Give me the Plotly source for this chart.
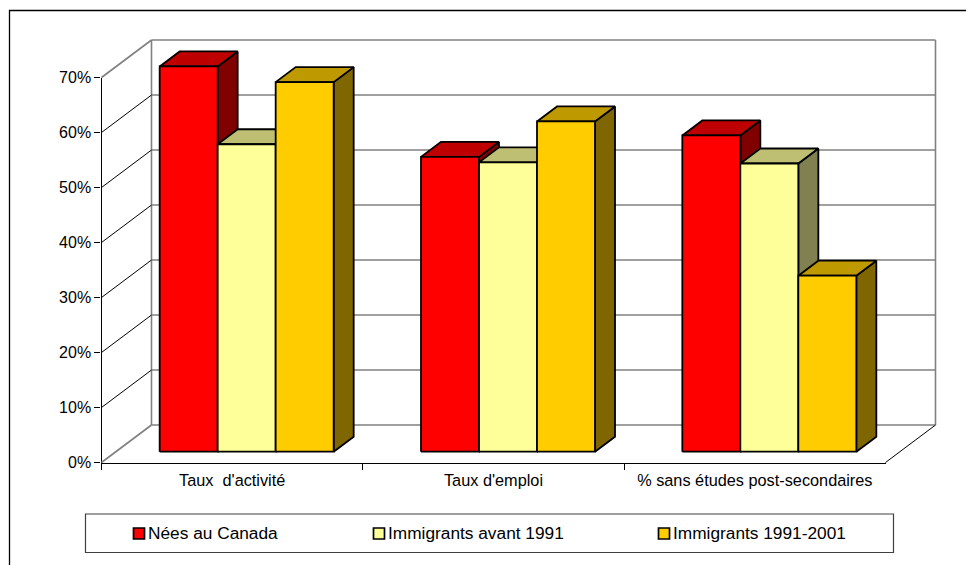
import plotly.graph_objects as go

# ---- data ----
categories = ["Taux\u00a0 d'activité", "Taux d'emploi", "% sans études post-secondaires"]
series_names = ["Nées au Canada", "Immigrants avant 1991", "Immigrants 1991-2001"]
nees_au_canada = [70.05, 53.6, 57.5]
immigrants_avant_1991 = [55.9, 52.6, 52.4]
immigrants_1991_2001 = [67.2, 60.05, 32.0]
y_ticks = [0, 10, 20, 30, 40, 50, 60, 70]
y_tick_labels = ["0%", "10%", "20%", "30%", "40%", "50%", "60%", "70%"]

# ---- styles ----
front_colors = ["#FF0000", "#FFFF99", "#FFCC00"]
top_colors = ["#BF0000", "#BFBF73", "#BF9900"]
side_colors = ["#800000", "#808050", "#806600"]
GREY = "#808080"
FONT = "Liberation Sans, Arial, sans-serif"
W, H = 966, 565

# pixel geometry of the oblique projection
X0, X1 = 101.5, 885.5      # front plane x axis
Y0, Y70 = 462.5, 77.5      # front plane 0% and 70%
ux = (X1 - X0) / 3          # px per category
uy = (Y0 - Y70) / 70        # px per percent
wall_dx, wall_dy = 50 / ux, 37.5 / uy
bar_w = 58 / ux
bar_dx, bar_dy = 20 / ux, 15 / uy
front_dx, front_dy = 14.5 / ux, 10.8 / uy


def px(x):
    return x / W


def py(y):
    return 1 - y / H


values = [nees_au_canada, immigrants_avant_1991, immigrants_1991_2001]
fig = go.Figure()

# real axes carrying the tick labels
fig.add_trace(go.Scatter(x=categories, y=[0, 0, 0], mode="markers", marker=dict(opacity=0),
                         hoverinfo="skip", showlegend=False))


def seg(points, color, width, dash=None):
    xs, ys = [], []
    for a, b in points:
        xs += [a[0], b[0], None]
        ys += [a[1], b[1], None]
    fig.add_trace(go.Scatter(x=xs, y=ys, mode="lines", xaxis="x2", yaxis="y2",
                             line=dict(color=color, width=width), hoverinfo="skip",
                             showlegend=False))


L, R = -0.5, 2.5
# back wall grid + wall outline
back = [((L + wall_dx, t + wall_dy), (R + wall_dx, t + wall_dy)) for t in y_ticks]
back += [((L + wall_dx, wall_dy), (L + wall_dx, 70 + wall_dy)),
         ((R + wall_dx, wall_dy), (R + wall_dx, 70 + wall_dy))]
back += [((L, 0), (L + wall_dx, wall_dy)), ((L, 70), (L + wall_dx, 70 + wall_dy))]
seg(back, GREY, 1.6)
# thin black depth lines on the left wall and floor right edge
seg([((L, t), (L + wall_dx, t + wall_dy)) for t in y_ticks[1:-1]] +
    [((R, 0), (R + wall_dx, wall_dy))], "#000000", 1)


def faces(s):
    group_left = -bar_w * 1.5 + front_dx
    fx, tx, sx = [], [], []
    fy, ty, sy = [], [], []
    for c, v in enumerate(values[s]):
        x0 = c + group_left + s * bar_w
        x1 = x0 + bar_w
        b, t = front_dy, v + front_dy
        fx += [x0, x1, x1, x0, x0, None]
        fy += [b, b, t, t, b, None]
        tx += [x0, x1, x1 + bar_dx, x0 + bar_dx, x0, None]
        ty += [t, t, t + bar_dy, t + bar_dy, t, None]
        sx += [x1, x1 + bar_dx, x1 + bar_dx, x1, x1, None]
        sy += [b, b + bar_dy, t + bar_dy, t, b, None]
    return (sx, sy, side_colors[s]), (tx, ty, top_colors[s]), (fx, fy, front_colors[s])


for s, name in enumerate(series_names):
    for fxs, fys, col in faces(s):
        fig.add_trace(go.Scatter(x=fxs, y=fys, mode="lines", fill="toself", fillcolor=col,
                                 line=dict(color="#000000", width=1.8), xaxis="x2", yaxis="y2",
                                 name=name, hoverinfo="skip", showlegend=False))

# frame and legend box
shapes = [
    dict(type="path", xref="paper", yref="paper",
         path=f"M {px(9.5)} 0 L {px(9.5)} {py(10.5)} L 1 {py(10.5)}",
         line=dict(color="#000000", width=1.3)),
    dict(type="rect", xref="paper", yref="paper", x0=px(85.5), x1=px(893.5), y0=py(552.5), y1=py(514),
         line=dict(color="#404040", width=1.2), fillcolor="#FFFFFF"),
]
annotations = []
legend_swatch_x = [133, 373, 658]
for lx, name, col in zip(legend_swatch_x, series_names, front_colors):
    shapes.append(dict(type="rect", xref="paper", yref="paper", x0=px(lx + .5), x1=px(lx + 11.5),
                       y0=py(539), y1=py(528), fillcolor=col,
                       line=dict(color="#000000", width=1.7)))
    annotations.append(dict(xref="paper", yref="paper", x=px(lx + 13), y=py(532.7), text=name,
                            showarrow=False, xanchor="left", yanchor="middle", xshift=0,
                            font=dict(family=FONT, size=17.3, color="#000000")))

fig.update_layout(
    width=W, height=H, autosize=False, margin=dict(l=0, r=0, t=0, b=0, autoexpand=False),
    paper_bgcolor="#FFFFFF", plot_bgcolor="rgba(0,0,0,0)", showlegend=False,
    font=dict(family=FONT, color="#000000"), shapes=shapes, annotations=annotations,
    xaxis=dict(domain=[px(X0), px(X1)], type="category", categoryorder="array",
               categoryarray=categories, range=[-0.5, 2.5], tickson="boundaries",
               ticks="outside", ticklen=6, tickwidth=1, tickcolor="#000000",
               ticklabelstandoff=3,
               showline=True, linecolor="#000000", linewidth=1.3, showgrid=False, zeroline=False,
               tickfont=dict(family=FONT, size=16.3, color="#000000"), anchor="y", fixedrange=True),
    yaxis=dict(domain=[py(Y0), py(Y70)], range=[0, 70], tickmode="array", tickvals=y_ticks,
               ticktext=y_tick_labels, ticks="outside", ticklen=6, tickwidth=1, tickcolor="#000000",
               showline=True, linecolor="#000000", linewidth=1.3, showgrid=False, zeroline=False,
               tickfont=dict(family=FONT, size=16, color="#000000"), anchor="x", fixedrange=True),
    xaxis2=dict(domain=[0, 1], range=[-0.5 - X0 / ux, -0.5 + (W - X0) / ux], visible=False,
                anchor="y2", fixedrange=True),
    yaxis2=dict(domain=[0, 1], range=[-(H - Y0) / uy, Y0 / uy], visible=False,
                anchor="x2", fixedrange=True),
)

fig.write_html("out.html", config=dict(displayModeBar=False),
               post_script="document.body.style.margin='0';document.body.style.overflow='hidden';")
